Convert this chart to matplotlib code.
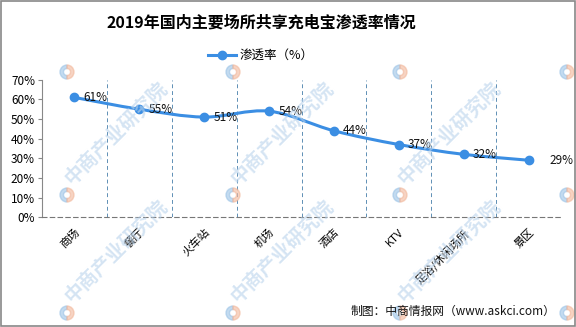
import matplotlib
matplotlib.use('Agg')
import numpy as np
from matplotlib import pyplot as plt
from matplotlib.path import Path
from matplotlib.patches import PathPatch, Rectangle, Wedge
from matplotlib.lines import Line2D

plt.rcParams['font.family'] = ['Noto Sans CJK SC', 'DejaVu Sans']

# 数据
categories = ['商场', '餐厅', '火车站', '机场', '酒店', 'KTV', '足浴/休闲场所', '景区']
rates = [61, 55, 51, 54, 44, 37, 32, 29]
y_ticks = [0, 10, 20, 30, 40, 50, 60, 70]

line_color = '#3b8ee3'

fig = plt.figure(figsize=(5.76, 3.27), dpi=100)
ax = fig.add_axes([0.073, 0.336, 0.901, 0.420])

x = np.arange(len(categories))
y = np.array(rates, dtype=float)

# 平滑曲线（Catmull-Rom 转贝塞尔）
verts = [(x[0], y[0])]
codes = [Path.MOVETO]
px = np.concatenate([[x[0]], x, [x[-1]]])
py = np.concatenate([[y[0]], y, [y[-1]]])
for i in range(1, len(px) - 2):
    c1 = (px[i] + (px[i + 1] - px[i - 1]) / 6, py[i] + (py[i + 1] - py[i - 1]) / 6)
    c2 = (px[i + 1] - (px[i + 2] - px[i]) / 6, py[i + 1] - (py[i + 2] - py[i]) / 6)
    verts += [c1, c2, (px[i + 1], py[i + 1])]
    codes += [Path.CURVE4] * 3
ax.add_patch(PathPatch(Path(verts, codes), facecolor='none', edgecolor=line_color,
                       lw=2.2, capstyle='round', zorder=3))
ax.plot(x, y, 'o', color=line_color, ms=6, zorder=4)

for xi, yi in zip(x, y):
    dx = 0.32 if xi == len(x) - 1 else 0.14
    ax.text(xi + dx, yi, '%d%%' % yi, fontsize=8.5, va='center', ha='left',
            color='#111111', zorder=5)

# 竖向虚线
for b in np.arange(len(categories)) + 0.5:
    ax.axvline(b, color='#5f8fb5', lw=0.7, ls=(0, (4, 3)), zorder=1)

ax.set_xlim(-0.5, len(categories) - 0.5)
ax.set_ylim(0, 70)
ax.set_yticks(y_ticks)
ax.set_yticklabels(['%d%%' % v for v in y_ticks], fontsize=8.5)
ax.set_xticks(x)
ax.set_xticklabels(categories, fontsize=8, rotation=45, ha='right', va='top',
                   rotation_mode='anchor')
ax.tick_params(axis='x', length=0, pad=7)
ax.tick_params(axis='y', length=3, width=0.8, color='#888888', pad=2)

for s in ['top', 'right']:
    ax.spines[s].set_visible(False)
ax.spines['left'].set_color('#888888')
ax.spines['bottom'].set_color('#777777')
ax.spines['bottom'].set_linestyle((0, (4, 3)))
ax.spines['bottom'].set_linewidth(0.8)

# 标题与图例
fig.text(0.453, 0.93, '2019年国内主要场所共享充电宝渗透率情况', fontsize=11.5,
         fontweight='bold', ha='center', va='center')
handle = Line2D([], [], color=line_color, lw=2.2, marker='o', ms=6)
fig.legend([handle], ['渗透率（%）'], loc='center', bbox_to_anchor=(0.453, 0.83),
           frameon=False, fontsize=9, handlelength=2.2, handletextpad=0.3)

fig.text(0.965, 0.048, '制图：中商情报网（www.askci.com）', fontsize=8.5,
         ha='right', va='center', color='#111111')

# 水印（标志 + 文字）
for wx in [67, 233, 400, 567]:
    for wy in [72, 195, 313]:
        cx, cy = wx / 576, 1 - wy / 327
        fig.patches.append(Wedge((wx, 327 - wy), 7, 90, 270, width=3.5,
                                 transform=None, color='#9cc3e6', alpha=0.6, zorder=0))
        fig.patches.append(Wedge((wx, 327 - wy), 7, -90, 90, width=3.5,
                                 transform=None, color='#f2b89c', alpha=0.6, zorder=0))
        if wy > 100 and wx < 500:
            fig.text((wx + 7) / 576, 1 - (wy - 7) / 327, '中商产业研究院', fontsize=14,
                     fontweight='bold', rotation=45, color='#b9d3ec', alpha=0.6,
                     ha='left', va='bottom', rotation_mode='anchor', zorder=0)

# 边框
fig.patches.append(Rectangle((0.001, 0.002), 0.997, 0.995, transform=fig.transFigure,
                             fill=False, edgecolor='#888888', lw=1.2))

fig.savefig('out.png', dpi=100)
